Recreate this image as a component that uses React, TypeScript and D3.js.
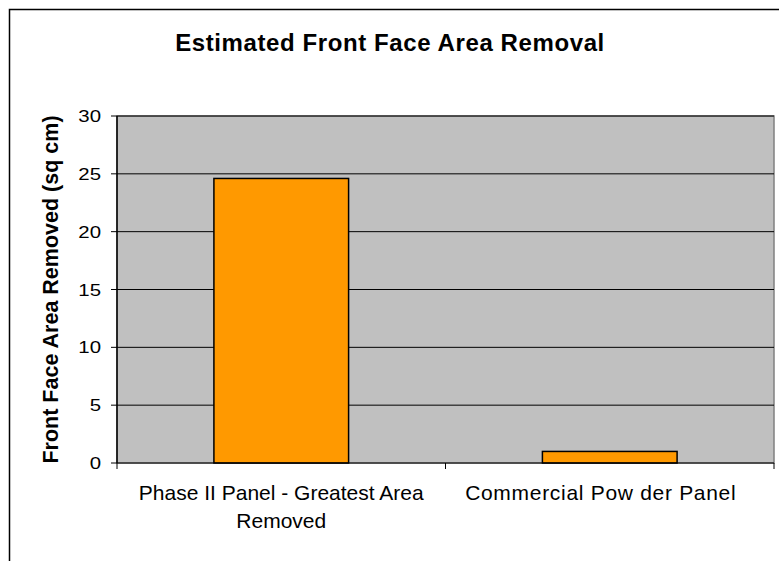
import * as d3 from "d3";

const categories = ["Phase II Panel - Greatest Area Removed", "Commercial Pow der Panel"];
const values = [24.6, 1.0];
const yTicks = [0, 5, 10, 15, 20, 25, 30];

const W = 779;
const H = 561;
const m = { left: 117, right: 5, top: 116, bottom: 98 };

// split category labels across lines the way the original wraps them
const labelLines: string[][] = [["Phase II Panel - Greatest Area", "Removed"], ["Commercial Pow der Panel"]];
const labelSpacing = [0, 0.7];
const labelShift = [0, -9];

const App = () => {
  const x = d3
    .scaleBand<string>()
    .domain(categories)
    .range([m.left, W - m.right])
    .paddingInner(0.59)
    .paddingOuter(0.295);
  const y = d3.scaleLinear().domain([0, 30]).range([H - m.bottom, m.top]);
  const font = "'Liberation Sans', Arial, sans-serif";
  const x0 = m.left;
  const x1 = W - m.right;
  const y0 = y(0);
  const step = x.step();

  return (
    <svg
      width={W}
      height={H}
      style={{ position: "absolute", left: 0, top: 0, background: "#fff" }}
      fontFamily={font}
    >
      <rect x={9.5} y={9.5} width={W + 10} height={H + 10} fill="white" stroke="#000" strokeWidth={1.5} />
      <text x={390} y={51} textAnchor="middle" fontSize={24} fontWeight="bold" letterSpacing={0.6}>
        Estimated Front Face Area Removal
      </text>
      <rect x={x0} y={y(30)} width={x1 - x0} height={y0 - y(30)} fill="#c0c0c0" stroke="#808080" strokeWidth={1.5} />
      {yTicks
        .filter((t) => t > 0)
        .map((t) => (
          <line key={t} x1={x0} x2={x1} y1={y(t)} y2={y(t)} stroke="#000" strokeWidth={1} />
        ))}
      {categories.map((c, i) => (
        <rect
          key={c}
          x={x(c)}
          y={y(values[i])}
          width={x.bandwidth()}
          height={y0 - y(values[i])}
          fill="#ff9900"
          stroke="#000"
          strokeWidth={1.5}
        />
      ))}
      {/* y axis */}
      <line x1={x0} x2={x0} y1={y(30)} y2={y0} stroke="#000" strokeWidth={1.5} />
      {yTicks.map((t) => (
        <g key={t}>
          <line x1={x0 - 6} x2={x0} y1={y(t)} y2={y(t)} stroke="#000" strokeWidth={1} />
          <text transform={`translate(101, ${y(t)}) scale(1.2, 1)`} dy="0.36em" textAnchor="end" fontSize={17}>
            {t}
          </text>
        </g>
      ))}
      {/* x axis */}
      <line x1={x0} x2={x1} y1={y0} y2={y0} stroke="#000" strokeWidth={1} />
      {[0, 1, 2].map((i) => (
        <line key={i} x1={x0 + i * step} x2={x0 + i * step} y1={y0} y2={y0 + 6} stroke="#000" strokeWidth={1} />
      ))}
      {categories.map((c, i) => {
        const cx = (x(c) ?? 0) + x.bandwidth() / 2 + labelShift[i];
        return (
          <text key={c} x={cx} y={500} textAnchor="middle" fontSize={21} letterSpacing={labelSpacing[i]}>
            {labelLines[i].map((ln, j) => (
              <tspan key={j} x={cx} dy={j === 0 ? 0 : 28}>
                {ln}
              </tspan>
            ))}
          </text>
        );
      })}
      <text
        transform={`translate(58, ${(y(30) + y0) / 2}) rotate(-90)`}
        textAnchor="middle"
        fontSize={21.5}
        fontWeight="bold"
      >
        Front Face Area Removed (sq cm)
      </text>
    </svg>
  );
};

export default App;
